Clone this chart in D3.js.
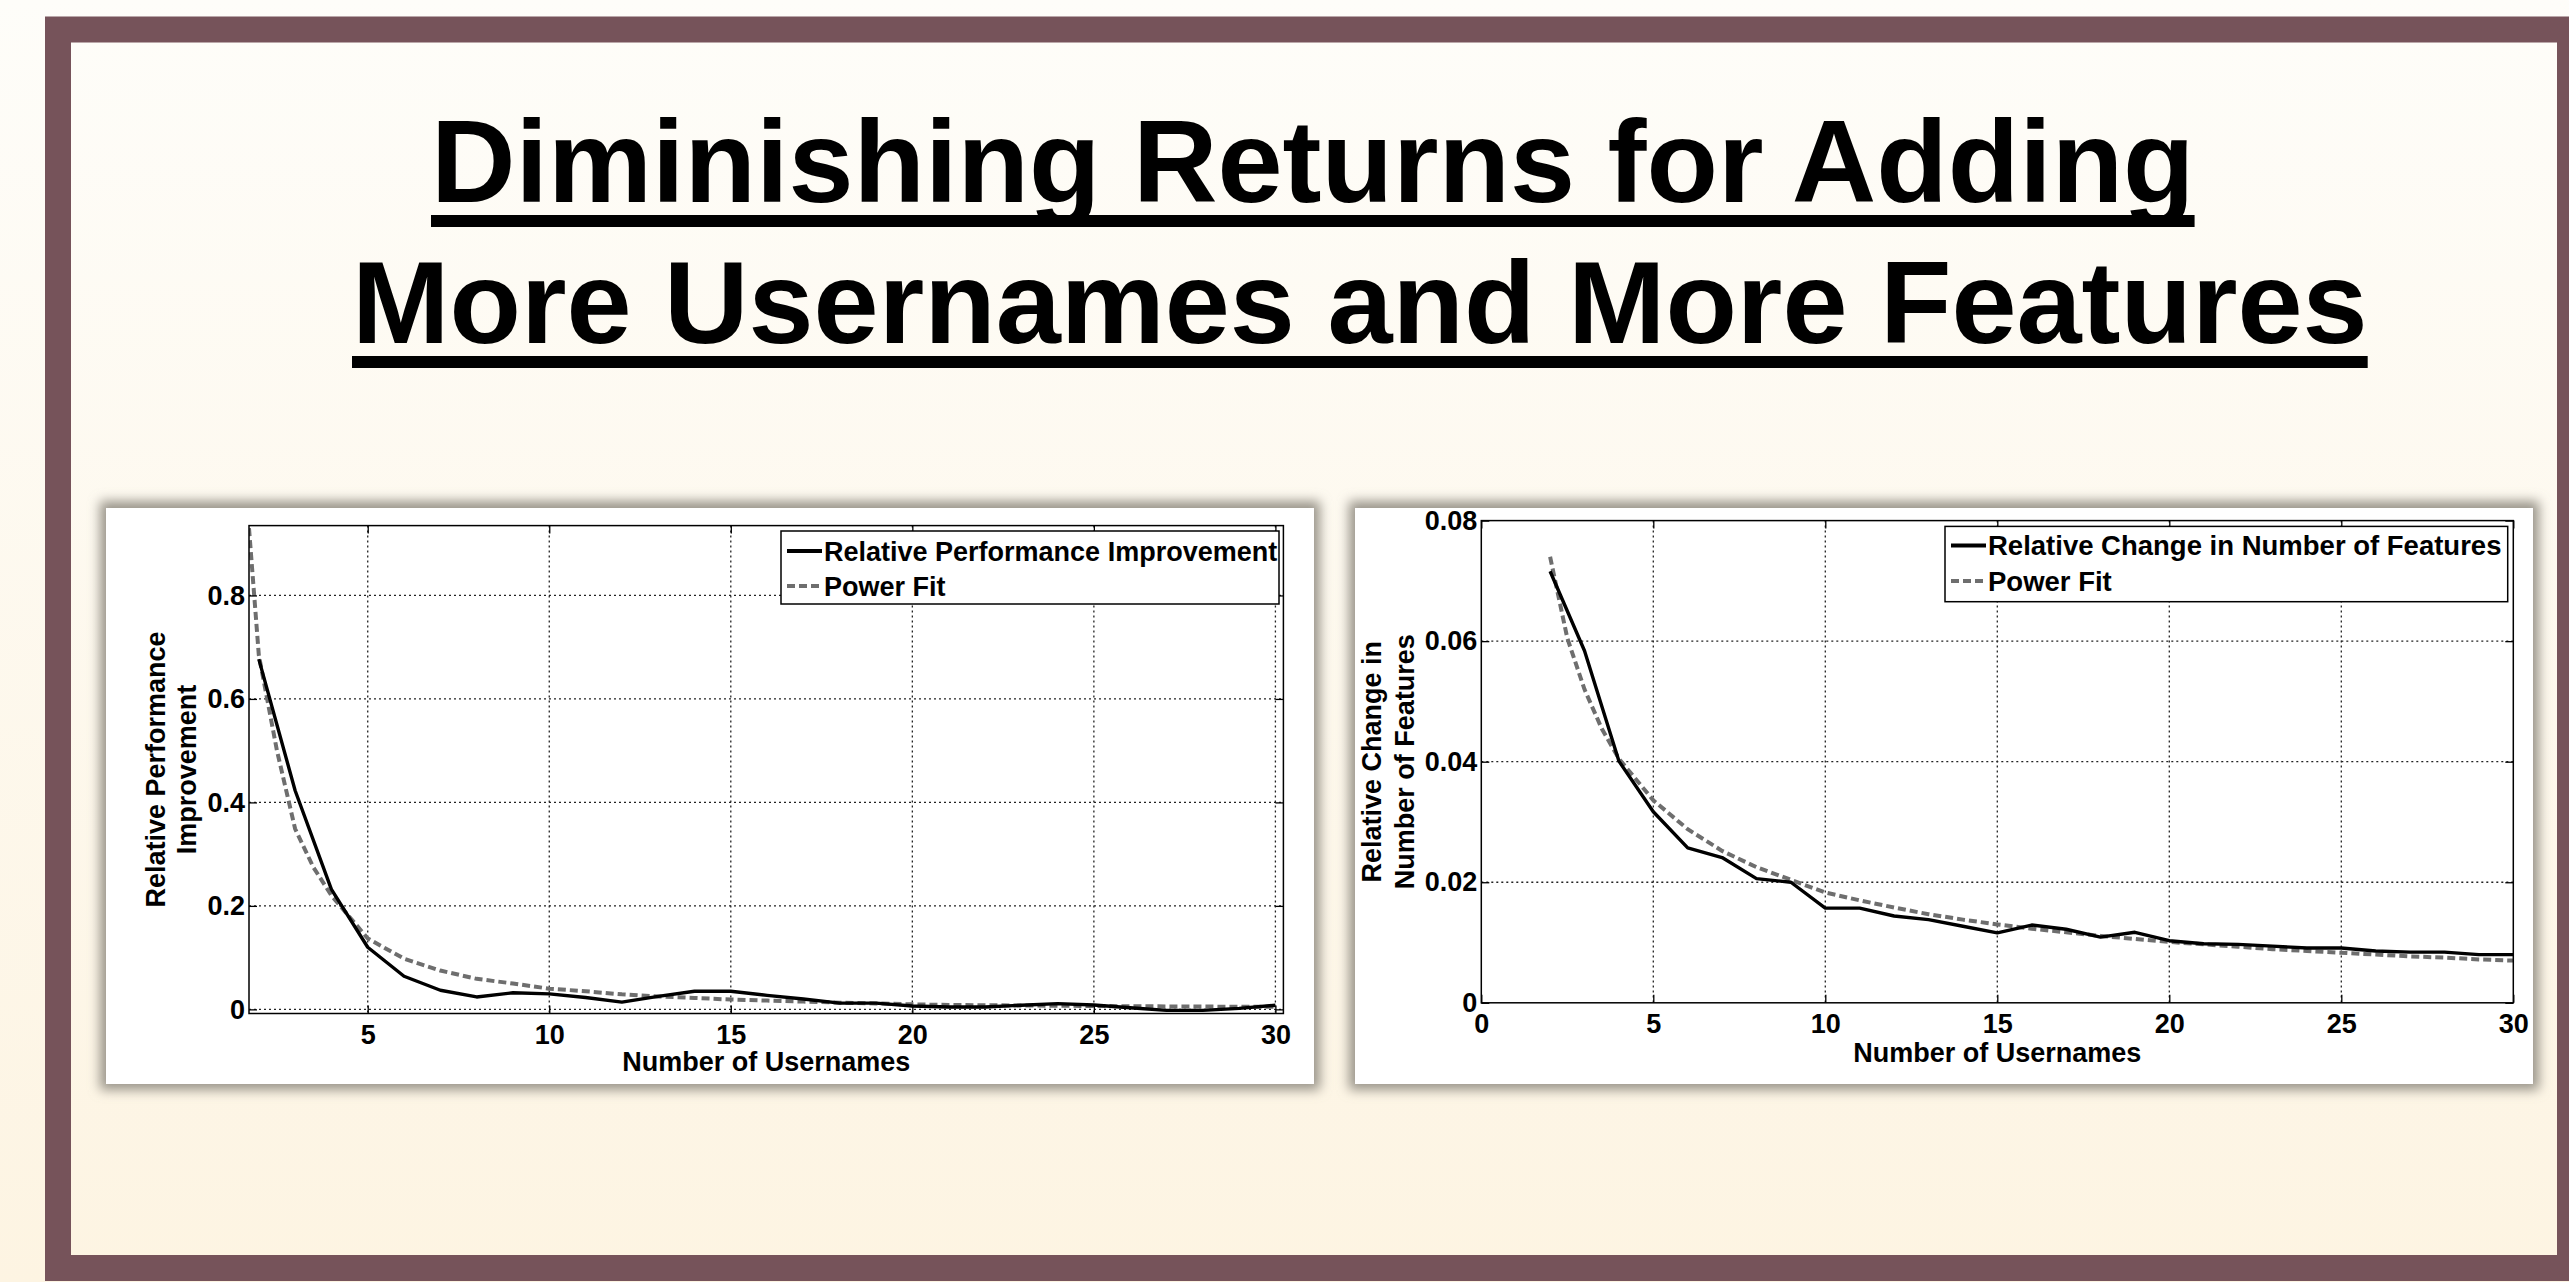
<!DOCTYPE html>
<html>
<head>
<meta charset="utf-8">
<script src="https://cdnjs.cloudflare.com/ajax/libs/d3/7.8.5/d3.min.js"></script>
<style>
body { margin: 0; background: #fefcf7; }
svg { display: block; }
text { font-family: "Liberation Sans", Arial, sans-serif; font-weight: bold; fill: #000; }
</style>
</head>
<body>
<div class="chart"></div>
<script>
var titleLines = ["Diminishing Returns for Adding", "More Usernames and More Features"];

// left chart: relative performance improvement
var perfX = [2, 3, 4, 5, 6, 7, 8, 9, 10, 11, 12, 13, 14, 15, 16, 17, 18, 19, 20, 21, 22, 23, 24, 25, 26, 27, 28, 29, 30];
var perfValues = [0.677, 0.423, 0.232, 0.120, 0.064, 0.037, 0.024, 0.032, 0.030, 0.023, 0.014, 0.025, 0.035, 0.035, 0.027,
                  0.020, 0.012, 0.012, 0.0065, 0.0045, 0.0045, 0.008, 0.011, 0.0085, 0.003, -0.002, -0.002, 0.002, 0.008];
var perfFitX = [1.73, 2, 2.5, 3, 3.5, 4, 5, 6, 7, 8, 9, 10, 11, 12, 13, 14, 15, 16, 17, 18, 19, 20, 21, 22, 23, 24, 25, 26, 27, 28, 29, 30];
var perfFit = [0.93, 0.685, 0.50, 0.349, 0.275, 0.220, 0.137, 0.098, 0.075, 0.059, 0.050, 0.040, 0.035, 0.029, 0.025, 0.022,
               0.019, 0.017, 0.015, 0.013, 0.0115, 0.0097, 0.0085, 0.008, 0.0075, 0.007, 0.0065, 0.006, 0.0057, 0.0054, 0.0051, 0.0048];
var perfXTicks = [5, 10, 15, 20, 25, 30];
var perfYTicks = [0, 0.2, 0.4, 0.6, 0.8];

// right chart: relative change in number of features
var featX = [2, 3, 4, 5, 6, 7, 8, 9, 10, 11, 12, 13, 14, 15, 16, 17, 18, 19, 20, 21, 22, 23, 24, 25, 26, 27, 28, 29, 30];
var featValues = [0.0716, 0.0584, 0.0401, 0.0317, 0.0257, 0.0241, 0.0206, 0.0200, 0.0157, 0.0157, 0.0144, 0.0138, 0.0127, 0.0116, 0.0129,
                  0.0122, 0.0109, 0.0117, 0.0103, 0.0098, 0.0097, 0.0094, 0.0091, 0.0091, 0.0086, 0.0084, 0.0084, 0.0080, 0.0080];
var featFitX = [2, 2.5, 3, 3.5, 4, 5, 6, 7, 8, 9, 10, 11, 12, 13, 14, 15, 16, 17, 18, 19, 20, 21, 22, 23, 24, 25, 26, 27, 28, 29, 30];
var featFit = [0.0740, 0.0605, 0.0520, 0.0455, 0.0405, 0.0336, 0.0288, 0.0252, 0.0225, 0.0204, 0.0183, 0.0170, 0.0158, 0.0147, 0.0138,
               0.0130, 0.0123, 0.0117, 0.0111, 0.0106, 0.0101, 0.0097, 0.0093, 0.0089, 0.0086, 0.0083, 0.0080, 0.0077, 0.0075, 0.0072, 0.0070];
var featXTicks = [0, 5, 10, 15, 20, 25, 30];
var featYTicks = [0, 0.02, 0.04, 0.06, 0.08];

var w = 2569;
var h = 1282;

var svg = d3.select(".chart")
            .append("svg")
            .attr("width", w)
            .attr("height", h);

var defs = svg.append("defs");
var bg = defs.append("linearGradient")
             .attr("id", "bg")
             .attr("x1", 0).attr("y1", 0).attr("x2", 0).attr("y2", 1);
bg.append("stop").attr("offset", "0%").attr("stop-color", "#fefdf9");
bg.append("stop").attr("offset", "100%").attr("stop-color", "#fdf4e2");

defs.append("filter")
    .attr("id", "shadow")
    .attr("x", "-5%").attr("y", "-10%").attr("width", "110%").attr("height", "120%")
    .append("feGaussianBlur")
    .attr("stdDeviation", 6);

svg.append("rect")
   .attr("width", w)
   .attr("height", h)
   .attr("fill", "url(#bg)");

// maroon frame
svg.append("rect")
   .attr("x", 58)
   .attr("y", 29.5)
   .attr("width", 2512)
   .attr("height", 1238.5)
   .attr("fill", "none")
   .attr("stroke", "#76535a")
   .attr("stroke-width", 26);

// title, two underlined lines
var titleX = [431, 352];
var titleY = [202, 343];
titleLines.forEach(function(t, i) {
    var txt = svg.append("text")
                 .attr("x", titleX[i])
                 .attr("y", titleY[i])
                 .style("font-size", "117px")
                 .text(t);
    var len = txt.node().getComputedTextLength();
    svg.append("rect")
       .attr("x", titleX[i])
       .attr("y", titleY[i] + 13)
       .attr("width", len)
       .attr("height", 12)
       .attr("fill", "#000");
});

function drawChart(o) {
    var g = svg.append("g");

    // panel with soft shadow
    g.append("rect")
     .attr("x", o.panel[0] - 6)
     .attr("y", o.panel[1] - 7)
     .attr("width", o.panel[2] + 12)
     .attr("height", o.panel[3] + 13)
     .attr("fill", "#99948a")
     .attr("filter", "url(#shadow)");
    g.append("rect")
     .attr("x", o.panel[0])
     .attr("y", o.panel[1])
     .attr("width", o.panel[2])
     .attr("height", o.panel[3])
     .attr("fill", "#fff");

    var x = d3.scaleLinear().domain(o.xDomain).range([o.left, o.right]);
    var y = d3.scaleLinear().domain(o.yDomain).range([o.bottom, o.top]);

    // dotted grid
    g.selectAll(".vgrid")
     .data(o.xTicks.filter(function(d) { return x(d) > o.left + 1 && x(d) < o.right - 1; }))
     .enter()
     .append("line")
     .attr("x1", function(d) { return x(d); })
     .attr("x2", function(d) { return x(d); })
     .attr("y1", o.top)
     .attr("y2", o.bottom)
     .attr("stroke", "#222")
     .attr("stroke-width", 1.3)
     .attr("stroke-dasharray", "2,3");
    g.selectAll(".hgrid")
     .data(o.yTicks.filter(function(d) { return y(d) > o.top + 1 && y(d) < o.bottom - 1; }))
     .enter()
     .append("line")
     .attr("x1", o.left)
     .attr("x2", o.right)
     .attr("y1", function(d) { return y(d); })
     .attr("y2", function(d) { return y(d); })
     .attr("stroke", "#222")
     .attr("stroke-width", 1.3)
     .attr("stroke-dasharray", "2,3");

    defs.append("clipPath")
        .attr("id", o.id + "clip")
        .append("rect")
        .attr("x", o.left)
        .attr("y", o.top)
        .attr("width", o.right - o.left)
        .attr("height", o.bottom - o.top);

    var line = d3.line()
                 .x(function(d) { return x(d[0]); })
                 .y(function(d) { return y(d[1]); });

    var plot = g.append("g").attr("clip-path", "url(#" + o.id + "clip)");
    plot.append("path")
        .attr("d", line(d3.zip(o.fitX, o.fit)))
        .attr("fill", "none")
        .attr("stroke", "#6e6e6e")
        .attr("stroke-width", 4)
        .attr("stroke-dasharray", "8,4");
    plot.append("path")
        .attr("d", line(d3.zip(o.dataX, o.data)))
        .attr("fill", "none")
        .attr("stroke", "#000")
        .attr("stroke-width", 3.4)
        .attr("stroke-linejoin", "round");

    // inward ticks on all four sides, labels bottom and left
    var bottom = g.append("g")
                  .attr("transform", "translate(0," + o.bottom + ")")
                  .call(d3.axisBottom(x).tickValues(o.xTicks).tickSize(-8).tickPadding(11).tickFormat(d3.format("d")));
    var top = g.append("g")
               .attr("transform", "translate(0," + o.top + ")")
               .call(d3.axisTop(x).tickValues(o.xTicks).tickSize(-8).tickFormat(""));
    var left = g.append("g")
                .attr("transform", "translate(" + o.left + ",0)")
                .call(d3.axisLeft(y).tickValues(o.yTicks).tickSize(-8).tickPadding(4).tickFormat(function(d) { return d === 0 ? "0" : d3.format(o.yFmt)(d); }));
    var right = g.append("g")
                 .attr("transform", "translate(" + o.right + ",0)")
                 .call(d3.axisRight(y).tickValues(o.yTicks).tickSize(-8).tickFormat(""));
    [bottom, top, left, right].forEach(function(a) {
        a.select(".domain").remove();
        a.selectAll("line").attr("stroke", "#000").attr("stroke-width", 1.3);
        a.selectAll("text")
         .attr("fill", "#000")
         .style("font-family", "'Liberation Sans', Arial, sans-serif")
         .style("font-weight", "bold")
         .style("font-size", "27px");
    });

    // box
    g.append("rect")
     .attr("x", o.left)
     .attr("y", o.top)
     .attr("width", o.right - o.left)
     .attr("height", o.bottom - o.top)
     .attr("fill", "none")
     .attr("stroke", "#000")
     .attr("stroke-width", 1.5);

    // axis titles
    g.append("text")
     .attr("x", (o.left + o.right) / 2)
     .attr("y", o.xTitleY)
     .attr("text-anchor", "middle")
     .style("font-size", "27px")
     .text("Number of Usernames");
    o.yTitle.forEach(function(t, i) {
        g.append("text")
         .attr("transform", "translate(" + o.yTitleX[i] + "," + (o.top + o.bottom) / 2 + ") rotate(-90)")
         .attr("text-anchor", "middle")
         .style("font-size", "27px")
         .text(t);
    });

    // legend
    var lg = o.legend;
    g.append("rect")
     .attr("x", lg.x)
     .attr("y", lg.y)
     .attr("width", lg.w)
     .attr("height", lg.h)
     .attr("fill", "#fff")
     .attr("stroke", "#000")
     .attr("stroke-width", 1.5);
    var rows = [{label: lg.label, color: "#000", dash: null, width: 4},
                {label: "Power Fit", color: "#6e6e6e", dash: "8,4", width: 4}];
    rows.forEach(function(r, i) {
        g.append("line")
         .attr("x1", lg.x + 6)
         .attr("x2", lg.x + 41)
         .attr("y1", lg.rowY[i])
         .attr("y2", lg.rowY[i])
         .attr("stroke", r.color)
         .attr("stroke-width", r.width)
         .attr("stroke-dasharray", r.dash);
        g.append("text")
         .attr("x", lg.x + 43)
         .attr("y", lg.rowY[i] + 9.5)
         .style("font-size", lg.size + "px")
         .text(r.label);
    });
}

drawChart({
    id: "perf",
    panel: [106, 508, 1208, 576],
    left: 249, right: 1283.4, top: 525.6, bottom: 1013.5,
    xDomain: [1.73, 30.22], yDomain: [-0.008, 0.935],
    xTicks: perfXTicks, yTicks: perfYTicks, yFmt: ".1f",
    dataX: perfX, data: perfValues, fitX: perfFitX, fit: perfFit,
    xTitleY: 1071,
    yTitle: ["Relative Performance", "Improvement"], yTitleX: [165, 196],
    legend: {x: 781, y: 531, w: 498, h: 73, rowY: [551, 586], size: 27, label: "Relative Performance Improvement"}
});

drawChart({
    id: "feat",
    panel: [1355, 508, 1178, 576],
    left: 1481.3, right: 2513.3, top: 520.6, bottom: 1002.8,
    xDomain: [0, 30], yDomain: [0, 0.08],
    xTicks: featXTicks, yTicks: featYTicks, yFmt: ".2f",
    dataX: featX, data: featValues, fitX: featFitX, fit: featFit,
    xTitleY: 1062,
    yTitle: ["Relative Change in", "Number of Features"], yTitleX: [1381, 1414],
    legend: {x: 1945, y: 526.4, w: 562.7, h: 75.3, rowY: [545.5, 581], size: 27.5, label: "Relative Change in Number of Features"}
});
</script>
</body>
</html>
